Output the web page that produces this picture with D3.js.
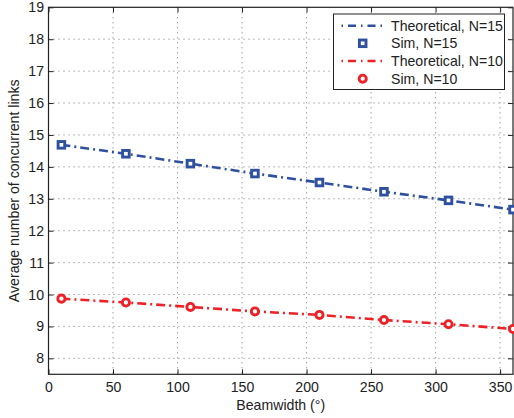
<!DOCTYPE html>
<html><head><meta charset="utf-8">
<script src="https://cdn.jsdelivr.net/npm/d3@7/dist/d3.min.js"></script>
<style>body{margin:0;background:#fff}svg{display:block}text{font-family:"Liberation Sans",Arial,sans-serif;fill:#222}</style>
</head><body>
<svg id="c" width="514" height="418"></svg>
<script>
const beamwidth = [10, 60, 110, 160, 210, 260, 310, 360];
const theoN15 = [14.69, 14.41, 14.10, 13.79, 13.51, 13.22, 12.95, 12.66];
const simN15  = [14.69, 14.41, 14.10, 13.79, 13.51, 13.22, 12.95, 12.66];
const theoN10 = [9.87, 9.75, 9.61, 9.47, 9.36, 9.20, 9.07, 8.92];
const simN10  = [9.87, 9.75, 9.61, 9.47, 9.36, 9.20, 9.07, 8.92];
const xTicks = [0, 50, 100, 150, 200, 250, 300, 350];
const yTicks = [8, 9, 10, 11, 12, 13, 14, 15, 16, 17, 18, 19];
const legendLabels = ["Theoretical, N=15", "Sim, N=15", "Theoretical, N=10", "Sim, N=10"];

const blue = "#2f4f9f", red = "#ec2227";
const L = 48.5, R = 513, T = 7.3, B = 374.3;
const svg = d3.select("#c");
const x = d3.scaleLinear().domain([0, 360]).range([L, R]);
const y = d3.scaleLinear().domain([7.5, 19]).range([B, T]);

// calibrate font size so legend text spans ~112px like the reference
const probe = svg.append("text").style("font-size", "100px").text(legendLabels[0]);
const w100 = probe.node().getComputedTextLength();
probe.remove();
const fs = Math.max(12, Math.min(16, 112 / w100 * 100));
const FS = fs + "px";

// grid
const g = svg.append("g");
g.selectAll(".gx").data(xTicks.slice(1)).join("line")
  .attr("x1", d => x(d)).attr("x2", d => x(d)).attr("y1", T).attr("y2", B)
  .attr("stroke", "#555").attr("stroke-width", 0.8).attr("stroke-dasharray", "1,4");
g.selectAll(".gy").data(yTicks.slice(0, -1)).join("line")
  .attr("x1", L).attr("x2", R).attr("y1", d => y(d)).attr("y2", d => y(d))
  .attr("stroke", "#555").attr("stroke-width", 0.8).attr("stroke-dasharray", "1,4");

// axes (inward ticks, box)
const ax = svg.append("g").attr("transform", `translate(0,${B})`)
  .call(d3.axisBottom(x).tickValues(xTicks).tickSizeInner(-5).tickSizeOuter(0).tickPadding(7.5));
const ay = svg.append("g").attr("transform", `translate(${L},0)`)
  .call(d3.axisLeft(y).tickValues(yTicks).tickSizeInner(-5).tickSizeOuter(0).tickPadding(4.5));
const axT = svg.append("g").attr("transform", `translate(0,${T})`)
  .call(d3.axisTop(x).tickValues(xTicks).tickSizeInner(-5).tickSizeOuter(0).tickFormat(""));
const ayR = svg.append("g").attr("transform", `translate(${R},0)`)
  .call(d3.axisRight(y).tickValues(yTicks).tickSizeInner(-5).tickSizeOuter(0).tickFormat(""));
[ax, ay, axT, ayR].forEach(a => {
  a.attr("font-size", null).attr("font-family", null);
  a.select(".domain").remove();
  a.selectAll("line").attr("stroke", "#222");
  a.selectAll("text").style("font-size", FS).attr("fill", "#222");
});
svg.append("rect").attr("x", L).attr("y", T).attr("width", R - L).attr("height", B - T)
  .attr("fill", "none").attr("stroke", "#222").attr("stroke-width", 1.2);

// labels
svg.append("text").attr("x", x(180)).attr("y", 410).attr("text-anchor", "middle")
  .style("font-size", FS).text("Beamwidth (°)");
svg.append("text").attr("transform", `translate(19,${(T + B) / 2}) rotate(-90)`).attr("text-anchor", "middle")
  .style("font-size", FS).text("Average number of concurrent links");

// lines
const line = d3.line().x((d, i) => x(beamwidth[i])).y(d => y(d));
const dash = "9,4,2,4";
svg.append("path").datum(theoN15).attr("d", line).attr("fill", "none")
  .attr("stroke", blue).attr("stroke-width", 2.6).attr("stroke-dasharray", dash);
svg.append("path").datum(theoN10).attr("d", line).attr("fill", "none")
  .attr("stroke", red).attr("stroke-width", 2.6).attr("stroke-dasharray", dash);

// markers
const sq = 6.6, sw = 2.9, cr = 3.6;
svg.selectAll(".sq").data(simN15).join("rect")
  .attr("x", (d, i) => x(beamwidth[i]) - sq / 2).attr("y", d => y(d) - sq / 2)
  .attr("width", sq).attr("height", sq).attr("fill", "#fff")
  .attr("stroke", blue).attr("stroke-width", sw);
svg.selectAll(".ci").data(simN10).join("circle")
  .attr("cx", (d, i) => x(beamwidth[i])).attr("cy", d => y(d)).attr("r", cr)
  .attr("fill", "#fff").attr("stroke", red).attr("stroke-width", sw);

// legend
const lg = svg.append("g");
lg.append("rect").attr("x", 333.5).attr("y", 14).attr("width", 171).attr("height", 75.5)
  .attr("fill", "#fff").attr("stroke", "#222").attr("stroke-width", 1);
const rowsY = [25.7, 43.3, 61, 78.7];
const kinds = [["line", blue], ["sq", blue], ["line", red], ["ci", red]];
kinds.forEach((k, i) => {
  const yy = rowsY[i];
  if (k[0] === "line") {
    lg.append("line").attr("x1", 341.5).attr("x2", 384).attr("y1", yy).attr("y2", yy)
      .attr("stroke", k[1]).attr("stroke-width", 2.6).attr("stroke-dasharray", "1.5,5,8,5");
  } else if (k[0] === "sq") {
    lg.append("rect").attr("x", 362.7 - sq / 2).attr("y", yy - sq / 2).attr("width", sq).attr("height", sq)
      .attr("fill", "#fff").attr("stroke", k[1]).attr("stroke-width", sw);
  } else {
    lg.append("circle").attr("cx", 362.7).attr("cy", yy).attr("r", cr)
      .attr("fill", "#fff").attr("stroke", k[1]).attr("stroke-width", sw);
  }
  lg.append("text").attr("x", 391).attr("y", yy).attr("dy", "0.35em")
    .style("font-size", FS).text(legendLabels[i]);
});
</script>
</body></html>
